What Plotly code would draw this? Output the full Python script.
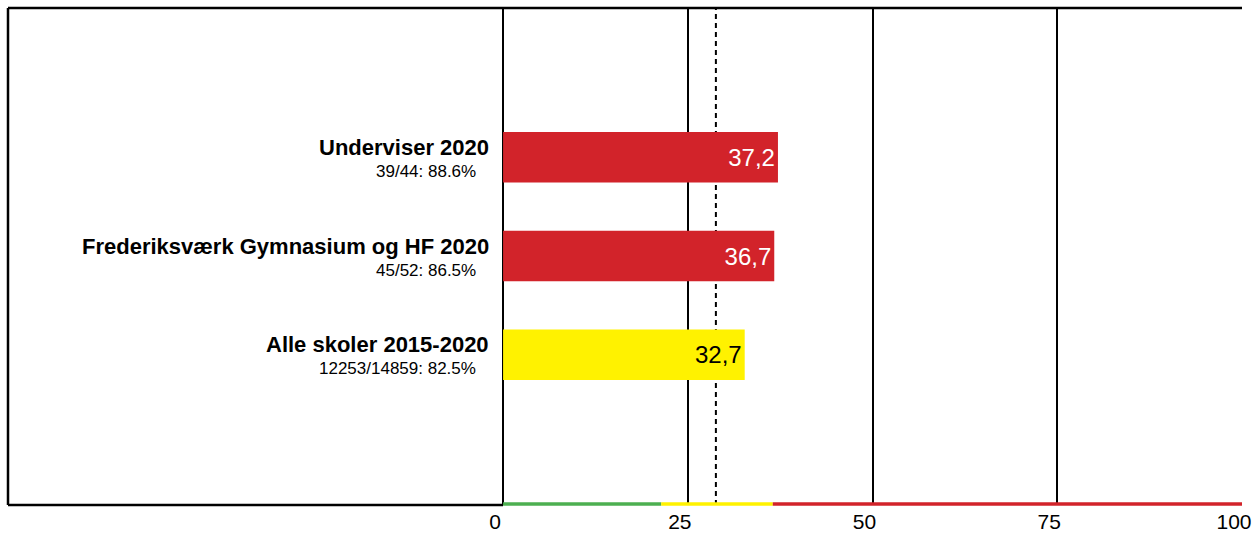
import plotly.graph_objects as go

# ---- data ----
labels = ["Underviser 2020", "Frederiksværk Gymnasium og HF 2020", "Alle skoler 2015-2020"]
sublabels = ["39/44: 88.6%", "45/52: 86.5%", "12253/14859: 82.5%"]
values = [37.2, 36.7, 32.7]
value_text = ["37,2", "36,7", "32,7"]
bar_colors = ["#D2232A", "#D2232A", "#FFF200"]
text_colors = ["white", "white", "black"]
benchmark = 28.8
band_edges = [0, 21.4, 36.5, 100]
band_colors = ["#4CAF50", "#FFF200", "#D2232A"]
tick_vals = [0, 25, 50, 75, 100]
tick_text = ["0", "25", "50", "75", "100"]
ypos = [3, 2, 1]

fig = go.Figure()
fig.add_trace(go.Bar(
    x=values, y=ypos, orientation="h",
    marker=dict(color=bar_colors, line=dict(width=0)),
    width=0.51,
    text=value_text, textposition="inside", insidetextanchor="end",
    textfont=dict(size=24, color=text_colors, family="Liberation Sans, Arial"),
    hoverinfo="skip",
))

shapes = []
# frame: top, left, bottom-left black
shapes.append(dict(type="line", xref="paper", yref="paper", x0=0, x1=1, y0=1, y1=1,
                   line=dict(color="black", width=2.5)))
shapes.append(dict(type="line", xref="paper", yref="paper", x0=0, x1=0, y0=0, y1=1,
                   line=dict(color="black", width=2.5)))
shapes.append(dict(type="line", xref="paper", x0=0, y0=0, yref="paper", y1=0,
                   x1=0.4012, line=dict(color="black", width=2.5)))
# colored bands along bottom
for i in range(len(band_colors)):
    shapes.append(dict(type="line", xref="x", yref="paper",
                       x0=band_edges[i], x1=band_edges[i + 1], y0=0.002, y1=0.002,
                       line=dict(color=band_colors[i], width=3.5), layer="above"))
# benchmark dashed (behind bars)
shapes.append(dict(type="line", xref="x", yref="paper", x0=benchmark, x1=benchmark,
                   y0=0, y1=1, line=dict(color="black", width=2, dash="5px,4px"),
                   layer="below"))

annotations = []
for i in range(len(labels)):
    annotations.append(dict(x=0, y=ypos[i], xref="x", yref="y", text="<b>" + labels[i] + "</b>",
                            showarrow=False, xanchor="right", yanchor="middle",
                            xshift=-12, yshift=10,
                            font=dict(size=22, color="black", family="Liberation Sans, Arial")))
    annotations.append(dict(x=0, y=ypos[i], xref="x", yref="y", text=sublabels[i],
                            showarrow=False, xanchor="right", yanchor="middle",
                            xshift=-25, yshift=-14,
                            font=dict(size=17, color="black", family="Liberation Sans, Arial")))

fig.update_layout(
    width=1255, height=534,
    margin=dict(l=8, r=13, t=8, b=29),
    paper_bgcolor="white", plot_bgcolor="white",
    showlegend=False,
    shapes=shapes, annotations=annotations,
    xaxis=dict(range=[-67, 100], tickvals=tick_vals, ticktext=tick_text,
               showgrid=True, gridcolor="black", gridwidth=2,
               zeroline=True, zerolinecolor="black", zerolinewidth=2,
               showline=False, ticks="", ticklabelshift=-8, ticklabelstandoff=2,
               automargin=False,
               tickfont=dict(size=21, color="black", family="Liberation Sans, Arial")),
    yaxis=dict(range=[-0.52, 4.51], showgrid=False, zeroline=False, automargin=False,
               showticklabels=False, ticks="", showline=False),
)

fig.write_html("out.html", config={"displayModeBar": False},
               post_script="document.body.style.margin='0';document.body.style.overflow='hidden';")
